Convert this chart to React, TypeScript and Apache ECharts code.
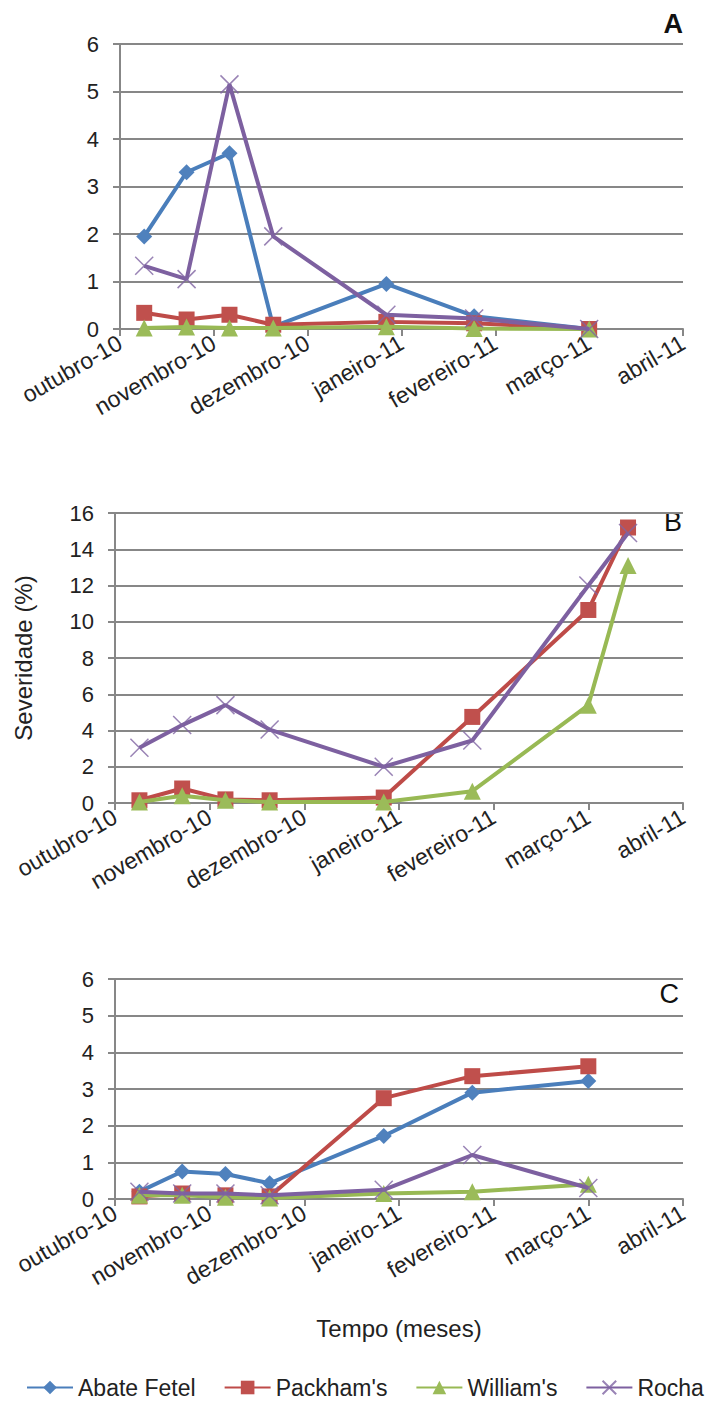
import React, { useEffect, useRef } from "react";
import * as echarts from "echarts";

const monthLabels = ["outubro-10", "novembro-10", "dezembro-10", "janeiro-11", "fevereiro-11", "março-11", "abril-11"];
const seriesNames = ["Abate Fetel", "Packham's", "William's", "Rocha"];

const datesA = ["2010-10-09", "2010-10-23", "2010-11-06", "2010-11-20", "2010-12-27", "2011-01-25", "2011-03-01"];
const datesB = ["2010-10-09", "2010-10-23", "2010-11-06", "2010-11-20", "2010-12-27", "2011-01-25", "2011-03-01", "2011-03-14"];
const datesC = ["2010-10-09", "2010-10-23", "2010-11-06", "2010-11-20", "2010-12-27", "2011-01-25", "2011-03-01"];

// Panel A
const abateA = [1.95, 3.3, 3.7, 0.05, 0.95, 0.27, 0];
const packhamA = [0.34, 0.2, 0.3, 0.09, 0.15, 0.12, 0];
const williamsA = [0.02, 0.04, 0.02, 0.02, 0.05, 0.01, 0];
const rochaA = [1.33, 1.05, 5.15, 1.95, 0.3, 0.22, 0];

// Panel B
const packhamB = [0.15, 0.8, 0.2, 0.15, 0.3, 4.75, 10.65, 15.2];
const williamsB = [0.05, 0.4, 0.15, 0.05, 0.05, 0.65, 5.4, 13.1];
const rochaB = [3.05, 4.3, 5.4, 4.05, 2.0, 3.45, 12.0, 14.9];

// Panel C
const abateC = [0.2, 0.75, 0.68, 0.43, 1.72, 2.9, 3.22];
const packhamC = [0.07, 0.15, 0.1, 0.07, 2.75, 3.35, 3.62];
const williamsC = [0.1, 0.1, 0.05, 0.03, 0.15, 0.2, 0.4];
const rochaC = [0.2, 0.15, 0.15, 0.1, 0.25, 1.2, 0.3];

const lineColors = ["#4A7EBB", "#BE4B48", "#98B954", "#7D60A0"];
const markerColors = ["#4F81BD", "#C0504D", "#9BBB59", "#8064A2"];
const symbols = ["diamond", "rect", "triangle", "path://M0,0L10,10M10,0L0,10"];
const symbolSizes = [16, 16, 17, 18];

const FONT = "Liberation Sans";

function monthOffset(d: string): number {
  const [y, m, day] = d.split("-").map(Number);
  const idx = (y - 2010) * 12 + (m - 1) - 9;
  const dim = new Date(y, m, 0).getDate();
  return idx + (day - 1) / dim;
}

function pairs(dates: string[], vals: number[]) {
  return vals.map((v, i) => [monthOffset(dates[i]), v]);
}

function makeSeries(nameIdx: number, grid: number, dates: string[], vals: number[]) {
  const isX = nameIdx === 3;
  return {
    type: "line",
    name: seriesNames[nameIdx],
    xAxisIndex: grid,
    yAxisIndex: grid,
    data: pairs(dates, vals),
    symbol: symbols[nameIdx],
    symbolSize: symbolSizes[nameIdx],
    showAllSymbol: true,
    lineStyle: { color: lineColors[nameIdx], width: 4 },
    itemStyle: isX
      ? { color: markerColors[nameIdx], borderColor: markerColors[nameIdx], borderWidth: 1.5, opacity: 0.8 }
      : { color: markerColors[nameIdx] },
    emphasis: { disabled: true },
    z: 2 + nameIdx,
  };
}

const gridColor = "#878787";

function xAxisCfg(grid: number, extra: any = {}) {
  return {
    type: "value",
    gridIndex: grid,
    min: 0,
    max: 6,
    interval: 1,
    axisLine: { show: true, lineStyle: { color: gridColor, width: 2 } },
    axisTick: { show: true, length: 7, lineStyle: { color: gridColor, width: 2 } },
    splitLine: { show: false },
    axisLabel: {
      rotate: 30,
      margin: 12,
      fontFamily: FONT,
      fontSize: 23,
      color: "#222",
      formatter: (v: number) => monthLabels[Math.round(v)] ?? "",
    },
    ...extra,
  };
}

function yAxisCfg(grid: number, max: number, interval: number, extra: any = {}) {
  return {
    type: "value",
    gridIndex: grid,
    min: 0,
    max,
    interval,
    axisLine: { show: true, lineStyle: { color: gridColor, width: 2 } },
    axisTick: { show: true, length: 7, lineStyle: { color: gridColor, width: 2 } },
    splitLine: { show: true, lineStyle: { color: gridColor, width: 2 } },
    axisLabel: { margin: 21, fontFamily: FONT, fontSize: 22, color: "#222" },
    ...extra,
  };
}

export default function App() {
  const ref = useRef<HTMLDivElement>(null);
  useEffect(() => {
    if (!ref.current) return;
    const chart = echarts.init(ref.current, null, { renderer: "svg" });
    chart.setOption({
      animation: false,
      backgroundColor: "#ffffff",
      grid: [
        { left: 120, top: 44, width: 563, height: 285 },
        { left: 115, top: 513, width: 568, height: 290 },
        { left: 115, top: 979, width: 568, height: 220 },
      ],
      xAxis: [
        xAxisCfg(0),
        xAxisCfg(1),
        xAxisCfg(2, {
          name: "Tempo (meses)",
          nameLocation: "middle",
          nameGap: 117,
          nameTextStyle: { fontFamily: FONT, fontSize: 24, color: "#222" },
        }),
      ],
      yAxis: [
        yAxisCfg(0, 6, 1),
        yAxisCfg(1, 16, 2, {
          name: "Severidade (%)",
          nameLocation: "middle",
          nameRotate: 90,
          nameGap: 80,
          nameTextStyle: { fontFamily: FONT, fontSize: 24, color: "#222" },
        }),
        yAxisCfg(2, 6, 1),
      ],
      legend: {
        data: seriesNames,
        left: 26,
        top: 1376,
        width: 693,
        padding: 0,
        itemWidth: 46,
        itemHeight: 17,
        itemGap: 28,
        textStyle: { fontFamily: FONT, fontSize: 23, color: "#222" },
      },
      graphic: [
        { type: "text", right: 36, top: 10, style: { text: "A", fontFamily: FONT, fontSize: 27, fontWeight: "bold", fill: "#111" } },
        { type: "text", right: 37, top: 508, style: { text: "B", fontFamily: FONT, fontSize: 27, fill: "#111" } },
        { type: "text", right: 40, top: 980, style: { text: "C", fontFamily: FONT, fontSize: 27, fill: "#111" } },
      ],
      series: [
        makeSeries(0, 0, datesA, abateA),
        makeSeries(1, 0, datesA, packhamA),
        makeSeries(2, 0, datesA, williamsA),
        makeSeries(3, 0, datesA, rochaA),
        makeSeries(1, 1, datesB, packhamB),
        makeSeries(2, 1, datesB, williamsB),
        makeSeries(3, 1, datesB, rochaB),
        makeSeries(0, 2, datesC, abateC),
        makeSeries(1, 2, datesC, packhamC),
        makeSeries(2, 2, datesC, williamsC),
        makeSeries(3, 2, datesC, rochaC),
      ],
    });
    return () => chart.dispose();
  }, []);
  return <div ref={ref} style={{ position: "absolute", left: 0, top: 0, width: 719, height: 1409 }} />;
}
